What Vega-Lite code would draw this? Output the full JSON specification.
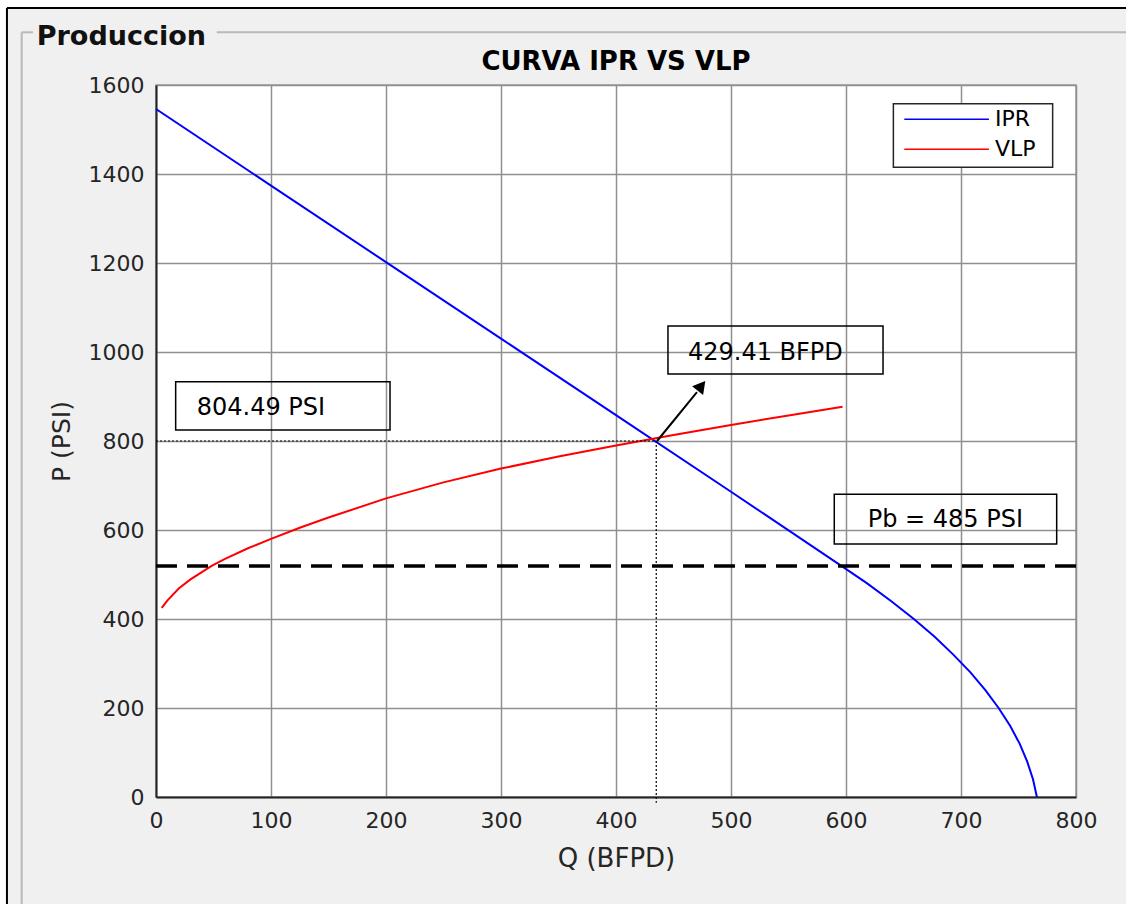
{
  "$schema": "https://vega.github.io/schema/vega-lite/v6.json",
  "width": 920,
  "height": 712,
  "autosize": {"type": "none"},
  "padding": {"left": 156, "top": 85, "right": 50, "bottom": 107},
  "background": "#f0f0f0",
  "config": {
    "view": {"fill": "#ffffff", "stroke": "#9a9a9a", "strokeWidth": 1.5},
    "axis": {"labelFont": "DejaVu Sans", "labelFontSize": 22, "labelColor": "#262626", "labelFlush": false, "titleFont": "DejaVu Sans", "titleFontWeight": "normal", "titleColor": "#262626", "gridColor": "#8f8f8f", "gridWidth": 1.5, "gridOpacity": 1, "domainColor": "#262626", "domainWidth": 2, "ticks": false}
  },
  "datasets": {
    "curvas": [
      {"Q": 0, "P": 1546, "serie": "IPR"},
      {"Q": 100, "P": 1374, "serie": "IPR"},
      {"Q": 200, "P": 1202, "serie": "IPR"},
      {"Q": 300, "P": 1030, "serie": "IPR"},
      {"Q": 400, "P": 858, "serie": "IPR"},
      {"Q": 500, "P": 686, "serie": "IPR"},
      {"Q": 595, "P": 521, "serie": "IPR"},
      {"Q": 618.4, "P": 480, "serie": "IPR"},
      {"Q": 639.4, "P": 440, "serie": "IPR"},
      {"Q": 659, "P": 400, "serie": "IPR"},
      {"Q": 677.1, "P": 360, "serie": "IPR"},
      {"Q": 693.3, "P": 320, "serie": "IPR"},
      {"Q": 708.2, "P": 280, "serie": "IPR"},
      {"Q": 721.2, "P": 240, "serie": "IPR"},
      {"Q": 732.7, "P": 200, "serie": "IPR"},
      {"Q": 742.7, "P": 160, "serie": "IPR"},
      {"Q": 751, "P": 120, "serie": "IPR"},
      {"Q": 757.5, "P": 80, "serie": "IPR"},
      {"Q": 762.6, "P": 40, "serie": "IPR"},
      {"Q": 766, "P": 0, "serie": "IPR"},
      {"Q": 5, "P": 425, "serie": "VLP"},
      {"Q": 10, "P": 442, "serie": "VLP"},
      {"Q": 20, "P": 469, "serie": "VLP"},
      {"Q": 30, "P": 489, "serie": "VLP"},
      {"Q": 48, "P": 519, "serie": "VLP"},
      {"Q": 60, "P": 535, "serie": "VLP"},
      {"Q": 80, "P": 559, "serie": "VLP"},
      {"Q": 100, "P": 580, "serie": "VLP"},
      {"Q": 125, "P": 605, "serie": "VLP"},
      {"Q": 150, "P": 628, "serie": "VLP"},
      {"Q": 200, "P": 671, "serie": "VLP"},
      {"Q": 250, "P": 707, "serie": "VLP"},
      {"Q": 300, "P": 738, "serie": "VLP"},
      {"Q": 350, "P": 765, "serie": "VLP"},
      {"Q": 400, "P": 790, "serie": "VLP"},
      {"Q": 450, "P": 813.5, "serie": "VLP"},
      {"Q": 500, "P": 836, "serie": "VLP"},
      {"Q": 550, "P": 857.5, "serie": "VLP"},
      {"Q": 597, "P": 877, "serie": "VLP"}
    ],
    "fondo": [
      {"Q": -140, "Q2": 850, "P": 1773, "P2": 1800},
      {"Q": -140, "Q2": -129.6, "P": -260, "P2": 1800}
    ],
    "marco": [
      {"Q": -129.6, "Q2": 850, "P": 1773, "P2": 1773},
      {"Q": -129.6, "Q2": -129.6, "P": 1773, "P2": -260}
    ],
    "panel": [
      {"Q": -116.8, "Q2": -107, "P": 1718.4, "P2": 1718.4},
      {"Q": 52.8, "Q2": 850, "P": 1718.4, "P2": 1718.4},
      {"Q": -116.8, "Q2": -116.8, "P": 1718.4, "P2": -260}
    ],
    "pb": [{"Q": 0, "Q2": 808, "P": 519, "P2": 519}],
    "punteadas": [
      {"Q": 0, "Q2": 435, "P": 800, "P2": 800},
      {"Q": 435, "Q2": 435, "P": 800, "P2": -13}
    ],
    "flecha": [{"Q": 435.7, "Q2": 470.4, "P": 800, "P2": 910}],
    "punta": [{"Q": 474.3, "P": 924}],
    "cajas": [
      {"Q": 445.2, "Q2": 632.2, "P": 1058.4, "P2": 950.6},
      {"Q": 17.1, "Q2": 203.5, "P": 933.3, "P2": 824.7},
      {"Q": 589.8, "Q2": 783.2, "P": 680.2, "P2": 568.5}
    ],
    "etiquetas": [
      {"Q": 462.6, "P": 997.8, "texto": "429.41 BFPD"},
      {"Q": 35.4, "P": 874.2, "texto": "804.49 PSI"},
      {"Q": 618.9, "P": 622.5, "texto": "Pb = 485 PSI"}
    ],
    "leyenda_caja": [{"Q": 641.2, "Q2": 779.7, "P": 1557.6, "P2": 1415.2}],
    "leyenda": [
      {"Q": 650.7, "Q2": 724.3, "P": 1522.9, "Qt": 729.6, "serie": "IPR"},
      {"Q": 650.7, "Q2": 724.3, "P": 1455.5, "Qt": 729.6, "serie": "VLP"}
    ],
    "panel_titulo": [{"Q": -103.7, "P": 1689.9, "texto": "Produccion"}],
    "titulo": [{"Q": 400, "P": 1634, "texto": "CURVA IPR VS VLP"}]
  },
  "layer": [
    {
      "data": {"name": "fondo"},
      "mark": {"type": "rect", "fill": "#ffffff", "clip": false},
      "encoding": {
        "x": {"field": "Q", "type": "quantitative", "title": "Q (BFPD)"},
        "x2": {"field": "Q2"},
        "y": {"field": "P", "type": "quantitative", "title": "P (PSI)"},
        "y2": {"field": "P2"}
      }
    },
    {
      "data": {"name": "curvas"},
      "mark": {"type": "line", "strokeWidth": 2},
      "encoding": {
        "x": {"field": "Q", "type": "quantitative", "title": "Q (BFPD)",
          "scale": {"domain": [0, 800], "nice": false, "zero": false},
          "axis": {"values": [0, 100, 200, 300, 400, 500, 600, 700, 800], "format": "d", "grid": true, "titleFontSize": 26, "labelPadding": 13, "titlePadding": 14}},
        "y": {"field": "P", "type": "quantitative", "title": "P (PSI)",
          "scale": {"domain": [0, 1600], "nice": false, "zero": false},
          "axis": {"values": [0, 200, 400, 600, 800, 1000, 1200, 1400, 1600], "format": "d", "grid": true, "titleFontSize": 25, "labelPadding": 12, "titlePadding": 14}},
        "color": {"field": "serie", "type": "nominal", "scale": {"domain": ["IPR", "VLP"], "range": ["#0000ff", "#ff0000"]}, "legend": null},
        "order": {"field": "Q", "type": "quantitative"}
      }
    },
    {
      "data": {"name": "marco"},
      "mark": {"type": "rule", "color": "#000000", "strokeWidth": 2, "clip": false},
      "encoding": {
        "x": {"field": "Q", "type": "quantitative", "title": "Q (BFPD)"},
        "x2": {"field": "Q2"},
        "y": {"field": "P", "type": "quantitative", "title": "P (PSI)"},
        "y2": {"field": "P2"}
      }
    },
    {
      "data": {"name": "panel"},
      "mark": {"type": "rule", "color": "#b9b9b9", "strokeWidth": 2, "clip": false},
      "encoding": {
        "x": {"field": "Q", "type": "quantitative", "title": "Q (BFPD)"},
        "x2": {"field": "Q2"},
        "y": {"field": "P", "type": "quantitative", "title": "P (PSI)"},
        "y2": {"field": "P2"}
      }
    },
    {
      "data": {"name": "pb"},
      "mark": {"type": "rule", "color": "#000000", "strokeWidth": 3.5, "strokeDash": [21, 10], "clip": false},
      "encoding": {
        "x": {"field": "Q", "type": "quantitative", "title": "Q (BFPD)"},
        "x2": {"field": "Q2"},
        "y": {"field": "P", "type": "quantitative", "title": "P (PSI)"},
        "y2": {"field": "P2"}
      }
    },
    {
      "data": {"name": "punteadas"},
      "mark": {"type": "rule", "color": "#000000", "strokeWidth": 1.2, "strokeDash": [2, 2], "clip": false},
      "encoding": {
        "x": {"field": "Q", "type": "quantitative", "title": "Q (BFPD)"},
        "x2": {"field": "Q2"},
        "y": {"field": "P", "type": "quantitative", "title": "P (PSI)"},
        "y2": {"field": "P2"}
      }
    },
    {
      "data": {"name": "flecha"},
      "mark": {"type": "rule", "color": "#000000", "strokeWidth": 2},
      "encoding": {
        "x": {"field": "Q", "type": "quantitative", "title": "Q (BFPD)"},
        "x2": {"field": "Q2"},
        "y": {"field": "P", "type": "quantitative", "title": "P (PSI)"},
        "y2": {"field": "P2"}
      }
    },
    {
      "data": {"name": "punta"},
      "mark": {"type": "point", "shape": "triangle-up", "filled": true, "color": "#000000", "size": 200, "angle": 38.8, "opacity": 1},
      "encoding": {
        "x": {"field": "Q", "type": "quantitative", "title": "Q (BFPD)"},
        "y": {"field": "P", "type": "quantitative", "title": "P (PSI)"}
      }
    },
    {
      "data": {"name": "cajas"},
      "mark": {"type": "rect", "fill": "transparent", "stroke": "#000000", "strokeWidth": 1.5, "clip": false},
      "encoding": {
        "x": {"field": "Q", "type": "quantitative", "title": "Q (BFPD)"},
        "x2": {"field": "Q2"},
        "y": {"field": "P", "type": "quantitative", "title": "P (PSI)"},
        "y2": {"field": "P2"}
      }
    },
    {
      "data": {"name": "etiquetas"},
      "mark": {"type": "text", "align": "left", "baseline": "middle", "font": "DejaVu Sans", "fontSize": 24, "color": "#000000", "clip": false},
      "encoding": {
        "x": {"field": "Q", "type": "quantitative", "title": "Q (BFPD)"},
        "y": {"field": "P", "type": "quantitative", "title": "P (PSI)"},
        "text": {"field": "texto", "type": "nominal"}
      }
    },
    {
      "data": {"name": "leyenda_caja"},
      "mark": {"type": "rect", "fill": "#ffffff", "stroke": "#262626", "strokeWidth": 1.5},
      "encoding": {
        "x": {"field": "Q", "type": "quantitative", "title": "Q (BFPD)"},
        "x2": {"field": "Q2"},
        "y": {"field": "P", "type": "quantitative", "title": "P (PSI)"},
        "y2": {"field": "P2"}
      }
    },
    {
      "data": {"name": "leyenda"},
      "mark": {"type": "rule", "strokeWidth": 1.5},
      "encoding": {
        "x": {"field": "Q", "type": "quantitative", "title": "Q (BFPD)"},
        "x2": {"field": "Q2"},
        "y": {"field": "P", "type": "quantitative", "title": "P (PSI)"},
        "color": {"field": "serie", "type": "nominal", "legend": null}
      }
    },
    {
      "data": {"name": "leyenda"},
      "mark": {"type": "text", "align": "left", "baseline": "middle", "font": "DejaVu Sans", "fontSize": 22, "color": "#000000"},
      "encoding": {
        "x": {"field": "Qt", "type": "quantitative", "title": "Q (BFPD)"},
        "y": {"field": "P", "type": "quantitative", "title": "P (PSI)"},
        "text": {"field": "serie", "type": "nominal"}
      }
    },
    {
      "data": {"name": "panel_titulo"},
      "mark": {"type": "text", "align": "left", "baseline": "alphabetic", "font": "DejaVu Sans", "fontSize": 27, "fontWeight": "bold", "color": "#111111", "clip": false},
      "encoding": {
        "x": {"field": "Q", "type": "quantitative", "title": "Q (BFPD)"},
        "y": {"field": "P", "type": "quantitative", "title": "P (PSI)"},
        "text": {"field": "texto", "type": "nominal"}
      }
    },
    {
      "data": {"name": "titulo"},
      "mark": {"type": "text", "align": "center", "baseline": "alphabetic", "font": "DejaVu Sans", "fontSize": 26, "fontWeight": "bold", "color": "#000000", "clip": false},
      "encoding": {
        "x": {"field": "Q", "type": "quantitative", "title": "Q (BFPD)"},
        "y": {"field": "P", "type": "quantitative", "title": "P (PSI)"},
        "text": {"field": "texto", "type": "nominal"}
      }
    }
  ]
}
